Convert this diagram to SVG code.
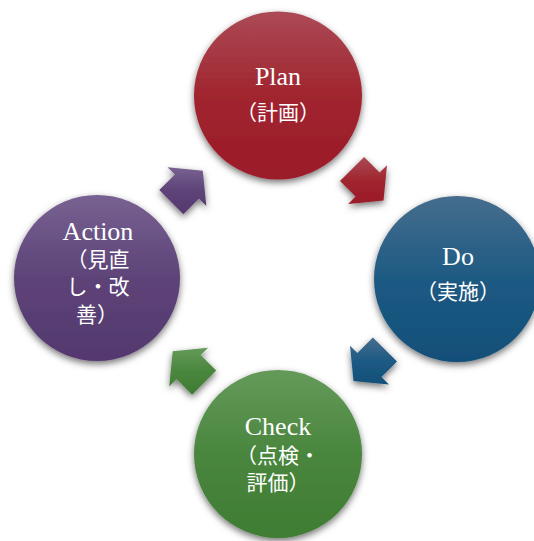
<svg xmlns="http://www.w3.org/2000/svg" width="534" height="541" viewBox="0 0 534 541">
<defs>
<style>
.lat{font-family:"Liberation Serif","Noto Sans CJK JP",serif;font-size:26px;fill:#ffffff;text-anchor:middle}
.jp{font-family:"Noto Sans CJK JP","Liberation Serif",sans-serif;font-size:21px;fill:#ffffff;text-anchor:middle}
</style>
<filter id="sh" x="-30%" y="-30%" width="160%" height="170%">
<feDropShadow dx="0" dy="3" stdDeviation="3.5" flood-color="#000" flood-opacity="0.55"/>
</filter>
<linearGradient id="gRed" x1="0" y1="0" x2="0" y2="1">
<stop offset="0" stop-color="#ab4a56"/><stop offset="0.5" stop-color="#a0252f"/><stop offset="1" stop-color="#9b1a2a"/>
</linearGradient>
<linearGradient id="gBlue" x1="0" y1="0" x2="0" y2="1">
<stop offset="0" stop-color="#466d8d"/><stop offset="0.5" stop-color="#1d5a83"/><stop offset="1" stop-color="#114f78"/>
</linearGradient>
<linearGradient id="gGreen" x1="0" y1="0" x2="0" y2="1">
<stop offset="0" stop-color="#649a5a"/><stop offset="0.5" stop-color="#4a863e"/><stop offset="1" stop-color="#3f7c33"/>
</linearGradient>
<linearGradient id="gPurple" x1="0" y1="0" x2="0" y2="1">
<stop offset="0" stop-color="#786292"/><stop offset="0.5" stop-color="#5d4378"/><stop offset="1" stop-color="#54386f"/>
</linearGradient>
</defs>
<rect width="534" height="541" fill="#ffffff"/>
<g id="connectors" filter="url(#sh)">
<path id="arrow-plan-do" fill="url(#gRed)" d="M364.1,157 L379.6,172.6 L387,165.2 L383.5,200.5 L348.2,204 L355.6,196.6 L340,181.1 Z"/>
<path id="arrow-do-check" fill="url(#gBlue)" d="M397,361.6 L381.4,377.1 L388.9,384.5 L353.5,381 L350,345.7 L357.4,353.1 L372.9,337.5 Z"/>
<path id="arrow-check-action" fill="url(#gGreen)" d="M192.1,394.7 L176.6,379.1 L169.2,386.6 L172.7,351.2 L208.1,347.7 L200.6,355.1 L216.2,370.6 Z"/>
<path id="arrow-action-plan" fill="url(#gPurple)" d="M159.3,190.1 L174.9,174.6 L167.5,167.2 L202.8,170.7 L206.3,206.1 L198.9,198.6 L183.4,214.2 Z"/>
</g>
<g id="plan">
<circle cx="278" cy="95.5" r="84" fill="url(#gRed)" filter="url(#sh)"/>
<text class="lat" x="278" y="85">Plan</text>
<text class="jp" x="278" y="120">（計画）</text>
</g>
<g id="do">
<circle cx="457" cy="279" r="83" fill="url(#gBlue)" filter="url(#sh)"/>
<text class="lat" x="458" y="265">Do</text>
<text class="jp" x="458" y="299">（実施）</text>
</g>
<g id="check">
<circle cx="278" cy="454" r="84" fill="url(#gGreen)" filter="url(#sh)"/>
<text class="lat" x="278" y="435">Check</text>
<text class="jp" x="278" y="463">（点検・</text>
<text class="jp" x="278" y="490">評価）</text>
</g>
<g id="action">
<circle cx="97" cy="278" r="83" fill="url(#gPurple)" filter="url(#sh)"/>
<text class="lat" x="98" y="240">Action</text>
<text class="jp" x="98" y="267">（見直</text>
<text class="jp" x="98" y="294">し・改</text>
<text class="jp" x="97" y="322">善）</text>
</g>
</svg>
